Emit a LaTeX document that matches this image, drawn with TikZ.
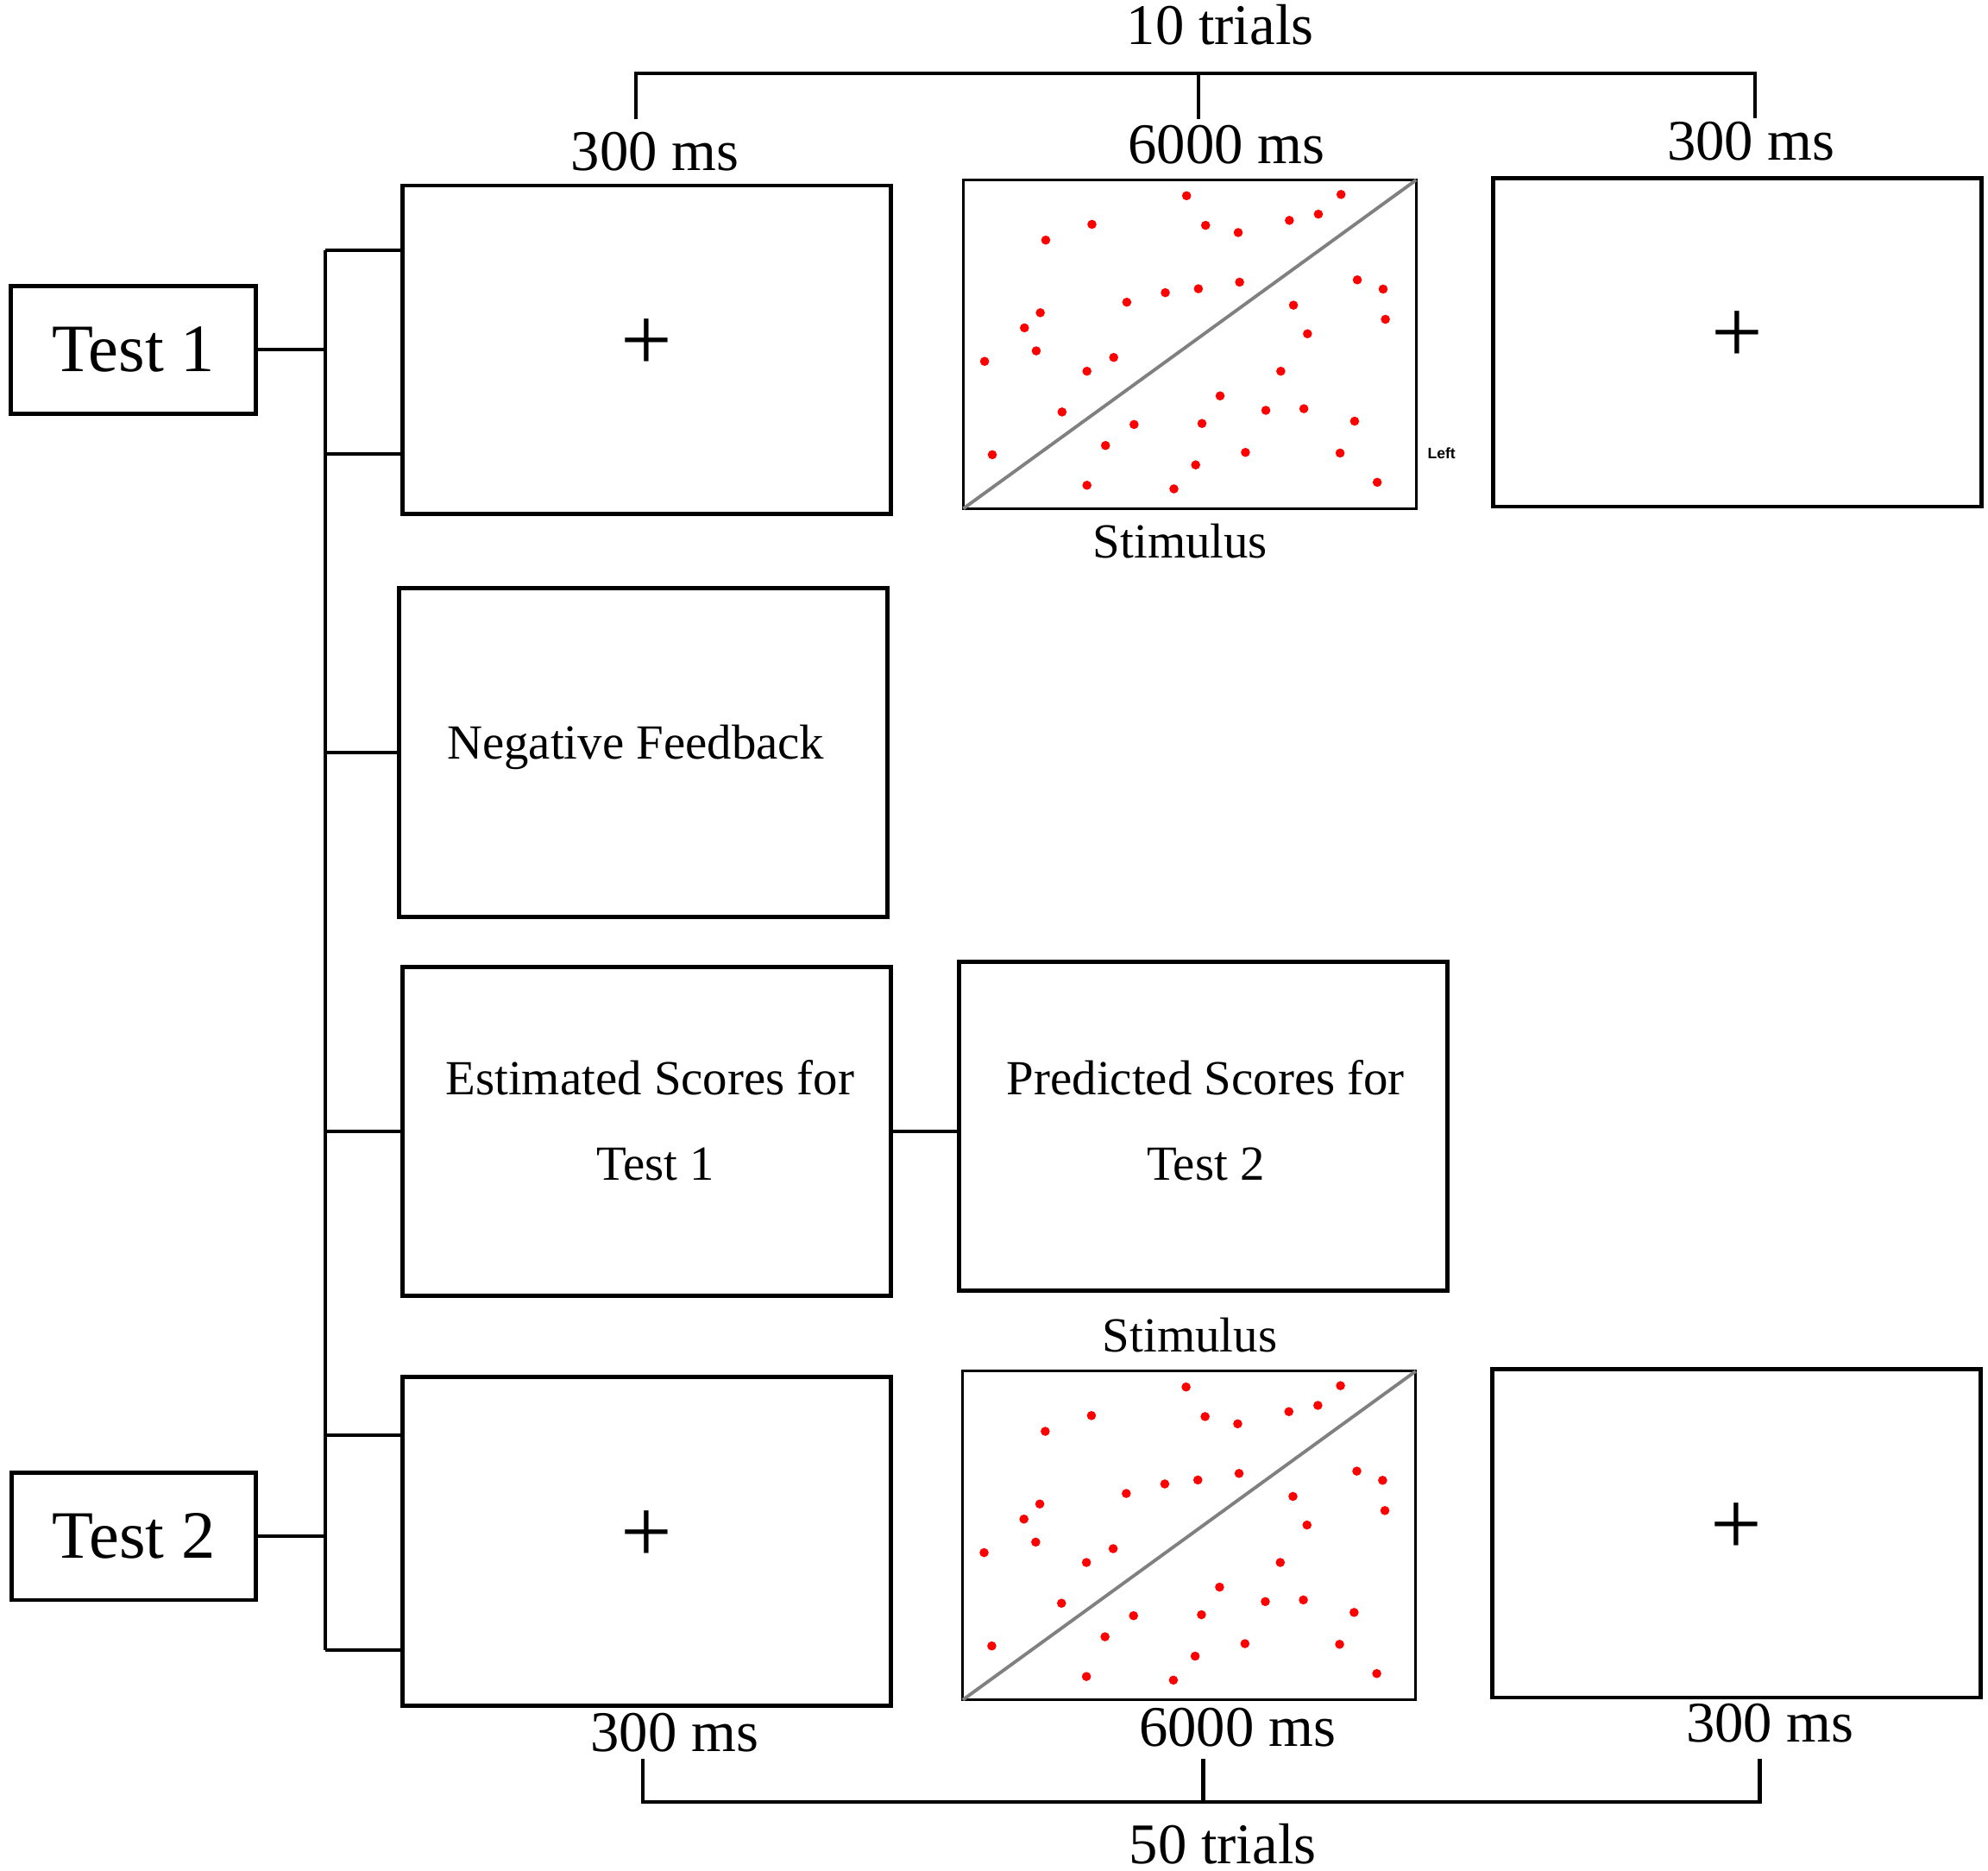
\documentclass[tikz,border=0pt]{standalone}
\usepackage{fontspec}
\setmainfont{Liberation Serif}
\newfontfamily\leftfont{Liberation Sans}
\newcommand\myfs[1]{\fontsize{#1}{#1}\selectfont}
\definecolor{diag}{RGB}{128,128,128}
\definecolor{dotred}{RGB}{255,0,0}
\newcommand\stimdots[1]{%
  \draw[diag, line width=0.75pt] (#1.south west) -- (#1.north east);
  \begin{scope}[shift={(#1.north west)}, x=3.57cm, y=-2.59cm]
    \foreach \px/\py in {0.493/0.048, 0.834/0.044, 0.284/0.135, 0.535/0.138, 0.607/0.160,
      0.720/0.123, 0.784/0.104, 0.182/0.183, 0.870/0.304, 0.927/0.332, 0.610/0.311,
      0.519/0.331, 0.446/0.343, 0.361/0.372, 0.729/0.381, 0.932/0.424, 0.170/0.404,
      0.135/0.450, 0.760/0.468, 0.161/0.520, 0.047/0.552, 0.332/0.540, 0.273/0.582,
      0.701/0.582, 0.567/0.657, 0.218/0.706, 0.668/0.701, 0.752/0.696, 0.377/0.744,
      0.527/0.741, 0.864/0.734, 0.064/0.836, 0.314/0.808, 0.623/0.829, 0.832/0.831,
      0.513/0.867, 0.273/0.929, 0.465/0.940, 0.914/0.920}
      \fill[dotred] (\px,\py) circle[radius=0.036cm];
  \end{scope}}
\begin{document}
\begin{tikzpicture}[x=0.01cm,y=-0.01cm,
  frame/.style={draw, line width=0.95pt, minimum width=3.85cm, minimum height=2.59cm, inner sep=0pt, outer sep=0pt},
  stimbox/.style={draw, line width=0.6pt, minimum width=3.57cm, minimum height=2.59cm, inner sep=0pt, outer sep=0pt},
  testbox/.style={draw, line width=0.95pt, minimum width=1.93cm, minimum height=1.005cm, inner sep=0pt, outer sep=0pt, font=\myfs{15.2pt}},
  conn/.style={line width=0.8pt},
  lab/.style={inner sep=0pt, anchor=base, font=\myfs{12.9pt}},
  boxtxt/.style={inner sep=0pt, anchor=base, font=\myfs{11pt}},
  stimlab/.style={inner sep=0pt, anchor=base, font=\myfs{11pt}},
  cross/.style={inner sep=0pt, font=\myfs{20.5pt}}]
\useasboundingbox (0,0) rectangle (1568,1475.4);

% boxes
\node[testbox] (test1) at (105.3,275.8) {Test 1};
\node[testbox] (test2) at (105.5,1211.5) {Test 2};
\node[frame] (fix1) at (510.2,275.9) {};
\node[stimbox] (stim1) at (938.4,271.5) {};
\node[frame] (fix2) at (1370.2,269.9) {};
\node[frame] (neg) at (507.3,593.5) {};
\node[frame] (est) at (510.3,892.3) {};
\node[frame] (pred) at (949.3,888) {};
\node[frame] (fix3) at (510,1215.7) {};
\node[stimbox] (stim2) at (938,1210.9) {};
\node[frame] (fix4) at (1369.5,1209.1) {};

% crosses
\node[cross] (c1) at ([yshift=0.037cm]fix1.center) {+};
\node[cross] (c2) at ([yshift=0.040cm]fix2.center) {+};
\node[cross] (c3) at ([yshift=0.042cm]fix3.center) {+};
\node[cross] (c4) at ([yshift=0.032cm]fix4.center) {+};

% stimuli
\stimdots{stim1}
\stimdots{stim2}
\node[inner sep=0pt, anchor=base, font=\leftfont\bfseries\myfs{3.4pt}] (left) at (1137,361.5) {Left};

% box texts
\node[boxtxt] (negt) at (501.4,598.6) {Negative Feedback};
\node[boxtxt] (est1) at (512.6,863.5) {Estimated Scores for};
\node[boxtxt] (est2) at (517,930.6) {Test 1};
\node[boxtxt] (pred1) at (951,863.5) {Predicted Scores for};
\node[boxtxt] (pred2) at (951,930.6) {Test 2};
\node[stimlab] (st1) at (931,440) {Stimulus};
\node[stimlab] (st2) at (938.5,1066) {Stimulus};

% timing labels
\node[lab] (tr10) at (962.4,35) {10 trials};
\node[lab] (ms1) at (516.6,134.6) {300 ms};
\node[lab] (ms2) at (967.4,129.2) {6000 ms};
\node[lab] (ms3) at (1381,126.5) {300 ms};
\node[lab] (ms4) at (532,1381) {300 ms};
\node[lab] (ms5) at (976,1377) {6000 ms};
\node[lab] (ms6) at (1396,1374) {300 ms};
\node[lab] (tr50) at (964.5,1469.7) {50 trials};

% top bracket
\coordinate (bt1) at (501.6,57.9);
\coordinate (bt2) at (945.4,57.9);
\coordinate (bt3) at (1384,57.9);
\coordinate (bl1) at (501.6,94.2);
\coordinate (bl2) at (945.4,94.2);
\coordinate (bl3) at (1384,93);
\draw[conn] (bl1) -- (bt1) -- (bt3) -- (bl3);
\draw[conn] (bt2) -- (bl2);

% bottom bracket
\coordinate (bb1) at (507,1421);
\coordinate (bb2) at (949,1421);
\coordinate (bb3) at (1388,1421);
\coordinate (bu1) at (507,1387);
\coordinate (bu2) at (949,1387);
\coordinate (bu3) at (1388,1387);
\draw[conn] (bu1) -- (bb1) -- (bb3) -- (bu3);
\draw[conn] (bb2) -- (bu2);

% spine and branches
\coordinate (sp1) at (256.5,197.3);
\coordinate (sp2) at (256.5,358);
\coordinate (sp5) at (256.5,1131.6);
\coordinate (sp6) at (256.5,1301.5);
\draw[conn] (sp1) -- (sp6);
\draw[conn] (sp1) -- (sp1 -| fix1.west);
\draw[conn] (sp2) -- (sp2 -| fix1.west);
\draw[conn] (neg.west) -- (neg.west -| sp1);
\draw[conn] (est.west) -- (est.west -| sp1);
\draw[conn] (est.east) -- (est.east -| pred.west);
\draw[conn] (sp5) -- (sp5 -| fix3.west);
\draw[conn] (sp6) -- (sp6 -| fix3.west);
\draw[conn] (test1.east) -- (test1.east -| sp1);
\draw[conn] (test2.east) -- (test2.east -| sp1);
\end{tikzpicture}
\end{document}
